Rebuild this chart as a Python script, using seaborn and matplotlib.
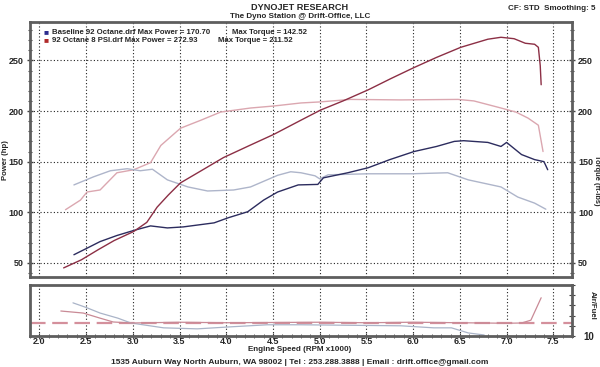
import matplotlib
matplotlib.use("Agg")
import matplotlib.pyplot as plt
from matplotlib.ticker import MultipleLocator
import pandas as pd
import seaborn as sns

# engine speed in rpm x1000
rpm_boost_hp = [2.26, 2.45, 2.63, 2.80, 3.01, 3.15, 3.26, 3.38, 3.51, 3.75, 3.97, 4.25,
                4.51, 4.80, 5.01, 5.25, 5.52, 5.76, 6.01, 6.25, 6.51, 6.80, 6.94, 7.08,
                7.20, 7.30, 7.34, 7.36, 7.37]
boost_hp = [45, 53, 63, 72, 81, 90, 105, 117, 129, 142, 154, 166,
            177, 191, 201, 210, 221, 232, 243, 253, 263, 271, 272.9, 271.5,
            267, 266, 263, 245, 226]

rpm_boost_tq = [2.28, 2.44, 2.51, 2.65, 2.83, 3.01, 3.19, 3.30, 3.51, 3.73, 3.94, 4.26,
                4.51, 4.80, 5.00, 5.33, 5.87, 6.48, 6.65, 6.94, 7.10, 7.23, 7.34, 7.39]
boost_tq = [102.5, 112, 120, 122, 139, 142, 149, 166, 183, 191, 199, 203,
            205, 208, 209, 211.5, 211, 211.5, 210, 203, 199, 193, 186, 160]

rpm_base_hp = [2.37, 2.50, 2.65, 2.83, 3.01, 3.19, 3.37, 3.54, 3.87, 4.02, 4.23, 4.40,
               4.55, 4.77, 4.98, 5.04, 5.30, 5.52, 5.75, 6.01, 6.25, 6.44, 6.54, 6.80,
               6.94, 7.00, 7.16, 7.30, 7.40, 7.44]
base_hp = [58, 64, 71, 77, 82, 86.5, 84.5, 85.5, 89.5, 94.5, 100.5, 112,
           120, 127, 127.5, 134, 139, 144, 152, 160, 165, 170, 170.7, 169,
           165, 169, 157, 152, 150, 142]

rpm_base_tq = [2.37, 2.58, 2.76, 2.94, 3.08, 3.21, 3.37, 3.59, 3.80, 4.08, 4.26, 4.55,
               4.69, 4.80, 4.95, 5.00, 5.09, 5.52, 5.98, 6.37, 6.59, 6.94, 7.12, 7.30, 7.42]
base_tq = [127, 135, 141, 143, 141, 142.5, 132, 125, 121, 122, 125, 136.5,
           140, 139, 136, 133, 137, 138, 138, 139, 132, 125, 115, 109, 103]

rpm_base_afr = [2.36, 2.50, 2.65, 2.84, 2.98, 3.33, 3.69, 4.05, 4.44, 4.80, 5.87,
                6.22, 6.41, 6.59, 6.76]
base_afr = [16.5, 15.6, 14.5, 13.5, 12.55, 11.6, 11.4, 11.8, 12.2, 12.2, 12.0,
            11.6, 11.6, 10.6, 10.2]

rpm_boost_afr = [2.23, 2.47, 2.65, 2.79, 2.98, 3.5, 4.0, 4.5, 5.0, 5.5, 6.0, 6.5,
                 7.0, 7.16, 7.26, 7.37]
boost_afr = [14.9, 14.5, 13.5, 12.75, 12.55, 12.7, 12.6, 12.65, 12.7, 12.6, 12.7, 12.6,
             12.5, 12.55, 13.1, 17.5]

afr_target = 12.6

colors = {
    "boost_hp": "#8c2f45",
    "boost_tq": "#dba7b0",
    "base_hp": "#2c2c5e",
    "base_tq": "#aeb5ca",
    "base_afr": "#aab4c8",
    "boost_afr": "#c98a96",
}

W, H = 600, 367


def fx(x):
    return x / W


def fy(y):
    return 1 - y / H


def build(pairs):
    frames = []
    for name, xs, ys in pairs:
        frames.append(pd.DataFrame({"rpm": xs, "value": ys, "run": name}))
    return pd.concat(frames, ignore_index=True)


sns.set_style("white")
plt.rcParams["font.family"] = ["Liberation Sans", "DejaVu Sans"]
plt.rcParams["font.weight"] = "bold"

fig = plt.figure(figsize=(6, 3.67), dpi=100)
ax = fig.add_axes([fx(30), fy(277), fx(542), 255 / H])
ax_afr = fig.add_axes([fx(30), fy(336), fx(542), 51 / H])

main_df = build([
    ("boost_tq", rpm_boost_tq, boost_tq),
    ("base_tq", rpm_base_tq, base_tq),
    ("base_hp", rpm_base_hp, base_hp),
    ("boost_hp", rpm_boost_hp, boost_hp),
])
sns.lineplot(data=main_df, x="rpm", y="value", hue="run", palette=colors,
             estimator=None, sort=False, legend=False, linewidth=1.0, ax=ax)

afr_df = build([
    ("base_afr", rpm_base_afr, base_afr),
    ("boost_afr", rpm_boost_afr, boost_afr),
])
ax_afr.axhline(afr_target, color="#d4909c", lw=1.6, dashes=(7, 3))
sns.lineplot(data=afr_df, x="rpm", y="value", hue="run", palette=colors,
             estimator=None, sort=False, legend=False, linewidth=0.9, ax=ax_afr)

grid_kw = dict(color="#222222", linestyle=(0, (1, 2)), linewidth=0.8)
for a in (ax, ax_afr):
    a.set_xlim(1.9, 7.7)
    a.xaxis.set_major_locator(MultipleLocator(0.5))
    a.set_xlabel("")
    a.set_ylabel("")
    for s in a.spines.values():
        s.set_color("#5e5e5e")
        s.set_linewidth(2)

ax.set_ylim(36, 288)
ax.yaxis.set_major_locator(MultipleLocator(50))
ax.yaxis.set_minor_locator(MultipleLocator(10))
ax.grid(True, which="major", **grid_kw)
ax.tick_params(axis="x", length=0, labelbottom=False)
ax.tick_params(axis="y", which="both", direction="inout", left=True, right=True,
               labelleft=True, labelright=True, labelsize=6.5, pad=2, color="#444444")
ax.tick_params(axis="y", which="major", length=5, width=1)
ax.tick_params(axis="y", which="minor", length=3, width=0.8)

ax_afr.set_ylim(10, 20)
ax_afr.set_yticks([10, 12, 14, 16, 18, 20])
ax_afr.set_yticklabels(["10", "", "", "", "", ""])
ax_afr.xaxis.set_minor_locator(MultipleLocator(0.1))
ax_afr.grid(True, which="major", axis="x", **grid_kw)
ax_afr.tick_params(axis="y", left=False, right=True, labelleft=False, labelright=True,
                   direction="inout", length=4, labelsize=7, pad=6, color="#444444")
ax_afr.tick_params(axis="x", which="both", direction="inout", bottom=True,
                   labelsize=6.5, pad=-1.5, color="#444444")
ax_afr.tick_params(axis="x", which="major", length=5)
ax_afr.tick_params(axis="x", which="minor", length=3)

# header / footer text
fig.text(0.5, fy(8), "DYNOJET RESEARCH", ha="center", va="center", fontsize=6.6)
fig.text(0.5, fy(17), "The Dyno Station @ Drift-Office, LLC", ha="center", va="center", fontsize=5.8)
fig.text(fx(596), fy(8), "CF: STD  Smoothing: 5", ha="right", va="center", fontsize=5.8)

fig.text(fx(43), fy(33), "■", color="#2c2c8e", ha="left", va="center", fontsize=6)
fig.text(fx(43), fy(41), "■", color="#b02a2a", ha="left", va="center", fontsize=6)
fig.text(fx(52), fy(33), "Baseline 92 Octane.drf Max Power = 170.70", ha="left", va="center", fontsize=5.6)
fig.text(fx(232), fy(33), "Max Torque = 142.52", ha="left", va="center", fontsize=5.6)
fig.text(fx(52), fy(41), "92 Octane 8 PSI.drf Max Power = 272.93", ha="left", va="center", fontsize=5.6)
fig.text(fx(218), fy(41), "Max Torque = 211.52", ha="left", va="center", fontsize=5.6)

fig.text(fx(6), fy(160), "Power (hp)", rotation=90, ha="center", va="center", fontsize=5.6)
fig.text(fx(596.5), fy(180), "Torque (ft-lbs)", rotation=270, ha="center", va="center", fontsize=5.4)
fig.text(fx(592), fy(305), "Air/Fuel", rotation=270, ha="center", va="center", fontsize=5.6)

fig.text(0.5, fy(349.5), "Engine Speed (RPM x1000)", ha="center", va="center", fontsize=5.8)
fig.text(0.5, fy(362), "1535 Auburn Way North Auburn, WA 98002 | Tel : 253.288.3888 | Email : drift.office@gmail.com",
         ha="center", va="center", fontsize=6.0)

fig.savefig("out.png", dpi=100)
